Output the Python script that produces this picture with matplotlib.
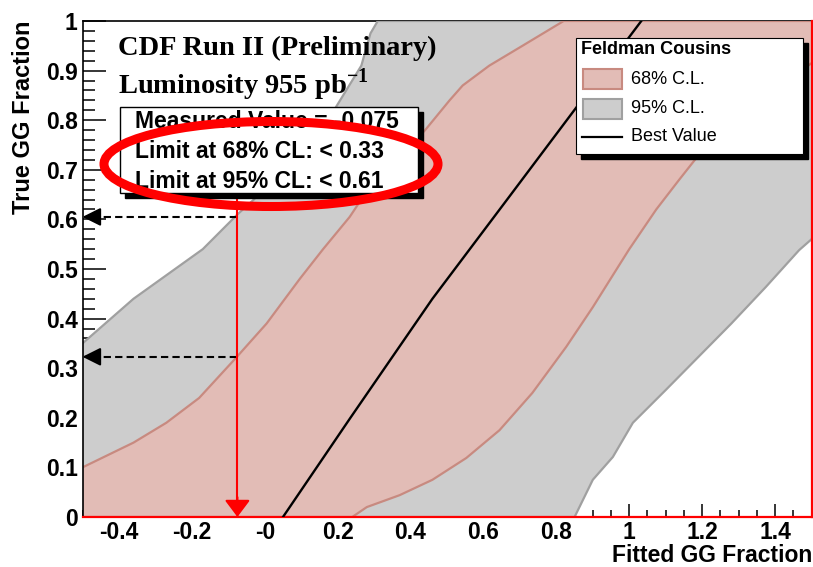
import matplotlib
matplotlib.use("Agg")
import matplotlib.pyplot as plt
import matplotlib.ticker as ticker
from matplotlib.patches import Rectangle, Ellipse, Polygon

# Feldman-Cousins belt (x = fitted, y = true)
band95_lo_y = [0.0, 0.35, 0.44, 0.54, 0.61, 0.64, 0.77, 0.82, 0.91, 0.975, 1.0]
band95_lo_x = [-1.0, -0.5, -0.36, -0.17, -0.075, -0.03, 0.14, 0.19, 0.265, 0.29, 0.31]
band95_hi_y = [0.0, 0.075, 0.121, 0.19, 0.256, 0.323, 0.39, 0.464, 0.538, 0.56, 1.0]
band95_hi_x = [0.85, 0.90, 0.955, 1.01, 1.10, 1.19, 1.28, 1.375, 1.466, 1.5, 1.85]

band68_lo_y = [0.0, 0.10, 0.15, 0.19, 0.24, 0.32, 0.39, 0.48, 0.54, 0.605, 0.69, 0.74, 0.78, 0.84, 0.87, 0.91, 0.95, 1.0]
band68_lo_x = [-0.6, -0.5, -0.36, -0.27, -0.18, -0.08, 0.005, 0.096, 0.16, 0.233, 0.31, 0.39, 0.44, 0.507, 0.543, 0.616, 0.707, 0.82]
band68_hi_y = [0.0, 0.02, 0.044, 0.075, 0.119, 0.175, 0.25, 0.343, 0.423, 0.498, 0.54, 0.62, 0.68, 0.72, 0.80, 0.87, 0.915, 1.0]
band68_hi_x = [0.24, 0.28, 0.37, 0.46, 0.553, 0.644, 0.734, 0.827, 0.90, 0.964, 1.0, 1.074, 1.137, 1.18, 1.30, 1.42, 1.5, 1.62]

best_y = [0.0, 0.2, 0.44, 0.645, 1.0]
best_x = [0.05, 0.235, 0.46, 0.67, 1.033]

measured = -0.075
limit_y = [0.605, 0.323]   # where the arrows hit the axis

xticks = [-0.4, -0.2, 0.0, 0.2, 0.4, 0.6, 0.8, 1.0, 1.2, 1.4]
xlabels = ["-0.4", "-0.2", "-0", "0.2", "0.4", "0.6", "0.8", "1", "1.2", "1.4"]
yticks = [0.0, 0.1, 0.2, 0.3, 0.4, 0.5, 0.6, 0.7, 0.8, 0.9, 1.0]
ylabels = ["0", "0.1", "0.2", "0.3", "0.4", "0.5", "0.6", "0.7", "0.8", "0.9", "1"]

box_lines = ["Measured Value = -0.075", "Limit at 68% CL: < 0.33", "Limit at 95% CL: < 0.61"]
legend_labels = ["68% C.L.", "95% C.L.", "Best Value"]

pink, pink_edge = "#e2bcb6", "#c88a80"
grey, grey_edge = "#cdcdcd", "#a0a0a0"

plt.rcParams["font.family"] = ["Liberation Sans", "DejaVu Sans"]
plt.rcParams["mathtext.fontset"] = "custom"
plt.rcParams["mathtext.rm"] = "Liberation Serif:bold"
plt.rcParams["mathtext.bf"] = "Liberation Serif:bold"

W, H = 813, 567
def fxy(px, py):
	return px / W, 1 - py / H

fig = plt.figure(figsize=(W / 100, H / 100), dpi=100)
ax = fig.add_axes([82.5 / W, 1 - 517 / H, (811.5 - 82.5) / W, (517 - 21) / H])
ax.set_xlim(-0.5, 1.5)
ax.set_ylim(0, 1)
ax.set_axisbelow(True)

poly95 = list(zip(band95_lo_x, band95_lo_y)) + list(zip(band95_hi_x, band95_hi_y))[::-1]
poly68 = list(zip(band68_lo_x, band68_lo_y)) + list(zip(band68_hi_x, band68_hi_y))[::-1]
ax.add_patch(Polygon(poly95, closed=True, facecolor=grey, edgecolor=grey_edge, lw=1.6, zorder=1))
ax.add_patch(Polygon(poly68, closed=True, facecolor=pink, edgecolor=pink_edge, lw=1.6, zorder=1.1))
ax.plot(best_x, best_y, color="black", lw=1.7, zorder=3)

# limit arrows
for ly in limit_y:
	ax.plot([measured, -0.478], [ly, ly], color="black", lw=1.5, dashes=(3.5, 2), zorder=4)
	ax.annotate("", xy=(-0.5, ly), xytext=(-0.47, ly),
		arrowprops=dict(arrowstyle="-|>,head_length=1.0,head_width=0.5", color="black",
			lw=1.5, shrinkA=0, shrinkB=0, mutation_scale=11), zorder=4)
ax.plot([measured, measured], [0.72, 0.03], color="red", lw=1.5, zorder=4)
ax.annotate("", xy=(measured, 0.0), xytext=(measured, 0.04),
	arrowprops=dict(arrowstyle="-|>,head_length=0.8,head_width=0.6", color="red",
		lw=1.5, shrinkA=0, shrinkB=0, mutation_scale=13), zorder=4)

# axes styling
ax.xaxis.set_major_locator(ticker.FixedLocator(xticks))
ax.xaxis.set_major_formatter(ticker.FixedFormatter(xlabels))
ax.xaxis.set_minor_locator(ticker.MultipleLocator(0.05))
ax.yaxis.set_major_locator(ticker.FixedLocator(yticks))
ax.yaxis.set_major_formatter(ticker.FixedFormatter(ylabels))
ax.yaxis.set_minor_locator(ticker.MultipleLocator(0.02))
ax.tick_params(axis="both", which="both", direction="in", width=1.1, colors="black",
	labelsize=16.5)
ax.tick_params(axis="x", which="major", length=9.5, pad=3)
ax.tick_params(axis="x", which="minor", length=5)
ax.tick_params(axis="y", which="major", length=16.5, pad=3.5)
ax.tick_params(axis="y", which="minor", length=8.5)
for lab in ax.get_xticklabels() + ax.get_yticklabels():
	lab.set_fontweight("bold")
for side in ["left", "top"]:
	ax.spines[side].set_color("black")
	ax.spines[side].set_linewidth(1.2)
ax.spines["top"].set_zorder(0.8)
for side in ["right", "bottom"]:
	ax.spines[side].set_color("red")
	ax.spines[side].set_linewidth(1.6)

fig.text(*fxy(24, 21), "True GG Fraction", rotation=90, ha="center", va="top",
	fontsize=17, fontweight="bold")
fig.text(*fxy(812, 561.5), "Fitted GG Fraction", ha="right", va="baseline",
	fontsize=16.5, fontweight="bold")

# title
fig.text(*fxy(118, 55), "CDF Run II (Preliminary)", family="Liberation Serif",
	fontweight="bold", fontsize=20.5, va="baseline", ha="left")
fig.text(*fxy(118, 94), r"Luminosity 955 pb$^{-1}$", family="Liberation Serif",
	fontweight="bold", fontsize=20.5, va="baseline", ha="left")

# result box with shadow
bx0, by0, bx1, by1 = 120, 107, 418, 193
sx0, sy0 = fxy(bx0 + 5, by1 + 5)
fig.patches.append(Rectangle((sx0, sy0), (bx1 - bx0) / W, (by1 - by0) / H,
	transform=fig.transFigure, facecolor="black", edgecolor="black", zorder=5))
x0, y0 = fxy(bx0, by1)
fig.patches.append(Rectangle((x0, y0), (bx1 - bx0) / W, (by1 - by0) / H,
	transform=fig.transFigure, facecolor="white", edgecolor="black", lw=1, zorder=6))
for line, py in zip(box_lines, [128, 158, 188]):
	fig.text(*fxy(135, py), line, fontsize=16.5, fontweight="bold", va="baseline",
		ha="left", zorder=7)

# red ellipse
ex, ey = fxy(271, 164)
fig.patches.append(Ellipse((ex, ey), 334 / W, 85 / H, transform=fig.transFigure,
	facecolor="none", edgecolor="red", lw=6.5, zorder=8))

# legend
lx0, ly0, lx1, ly1 = 576, 38, 803, 154
sx0, sy0 = fxy(lx0 + 5, ly1 + 5)
fig.patches.append(Rectangle((sx0, sy0), (lx1 - lx0) / W, (ly1 - ly0) / H,
	transform=fig.transFigure, facecolor="black", edgecolor="black", zorder=5))
x0, y0 = fxy(lx0, ly1)
fig.patches.append(Rectangle((x0, y0), (lx1 - lx0) / W, (ly1 - ly0) / H,
	transform=fig.transFigure, facecolor="white", edgecolor="black", lw=0.8, zorder=6))
fig.text(*fxy(581, 50), "Feldman Cousins", fontsize=13, fontweight="bold",
	va="center", ha="left", zorder=7)
for (fc, ec), py in zip([(pink, pink_edge), (grey, grey_edge)], [79, 109]):
	rx, ry = fxy(583, py + 10)
	fig.patches.append(Rectangle((rx, ry), 39 / W, 20 / H, transform=fig.transFigure,
		facecolor=fc, edgecolor=ec, lw=1.5, zorder=7))
lxa, lya = fxy(582, 137)
lxb, _ = fxy(622, 137)
fig.lines.append(plt.Line2D([lxa, lxb], [lya, lya], transform=fig.transFigure,
	color="black", lw=1.6, zorder=7))
for label, py in zip(legend_labels, [79, 109, 137]):
	fig.text(*fxy(631, py), label, fontsize=13, va="center", ha="left", zorder=7)

fig.savefig("out.png", dpi=100)
